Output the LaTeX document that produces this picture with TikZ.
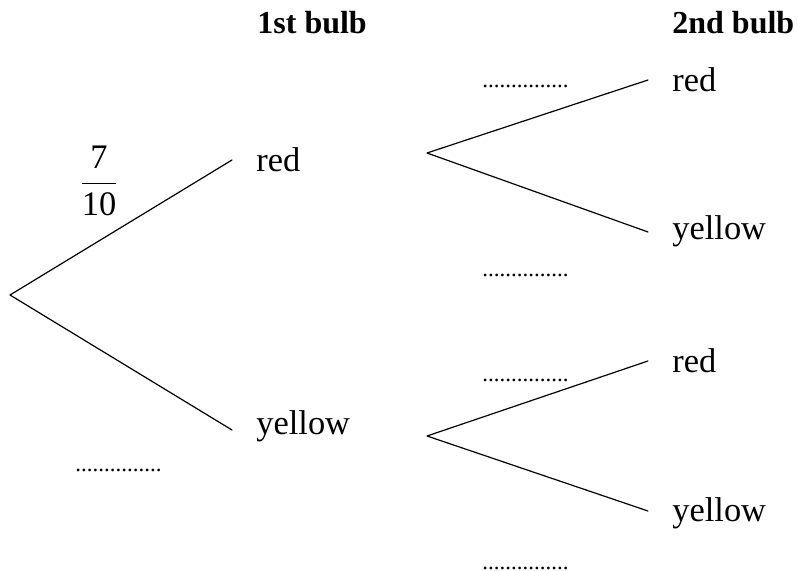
\documentclass[tikz,border=0pt]{standalone}
\usepackage{fontspec}
\setmainfont{Liberation Serif}
\begin{document}
\begin{tikzpicture}[x=0.5pt,y=-0.5pt,line join=round,line cap=round,
	lab/.style={anchor=base west,inner sep=0,font=\fontsize{17.2}{21}\selectfont},
	head/.style={lab,font=\fontsize{16}{19}\selectfont\bfseries},
	blank/.style={anchor=base west,inner sep=0,font=\fontsize{11.5}{14}\selectfont},
	branch/.style={line width=0.6pt}]
	\useasboundingbox (0,0) rectangle (798,571);
	\path%Headers
	(257,34)node[head](h1){1st bulb}
	(672,34)node[head](h2){2nd bulb}
	;
	\path%Level 1
	(10,295)coordinate(a)
	(232,160)coordinate(b0)
	(232,430)coordinate(c0)
	(256,172)node[lab](b){red}
	(256,435)node[lab](c){yellow}
	;
	\path%Level 2 b
	(427,153)coordinate(b1)
	(648,80)coordinate(b10)
	(648,232)coordinate(b20)
	(672,92)node[lab](b11){red}
	(672,240)node[lab](b21){yellow}
	;
	\path%Level 2 c
	(427,436)coordinate(c1)
	(648,361)coordinate(c10)
	(648,511)coordinate(c20)
	(672,373)node[lab](c11){red}
	(672,522)node[lab](c21){yellow}
	;
	%%%%%%%%%%%%%%%%%%%%%%%%%
	\path%Probabilities
	(99,181)node[font=\fontsize{17.2}{21}\selectfont,inner sep=0](pb){$\displaystyle\frac{\mbox{7}}{\mbox{10}}$}
	(75,472)node[blank](pc){...............}
	(482,88)node[blank](pb11){...............}
	(482,277)node[blank](pb21){...............}
	(482,382)node[blank](pc11){...............}
	(482,569)node[blank](pc21){...............}
	;
	%Draw
	\draw[branch](b0)--(a)--(c0);
	\draw[branch](b10)--(b1)--(b20);
	\draw[branch](c10)--(c1)--(c20);
\end{tikzpicture}
\end{document}
